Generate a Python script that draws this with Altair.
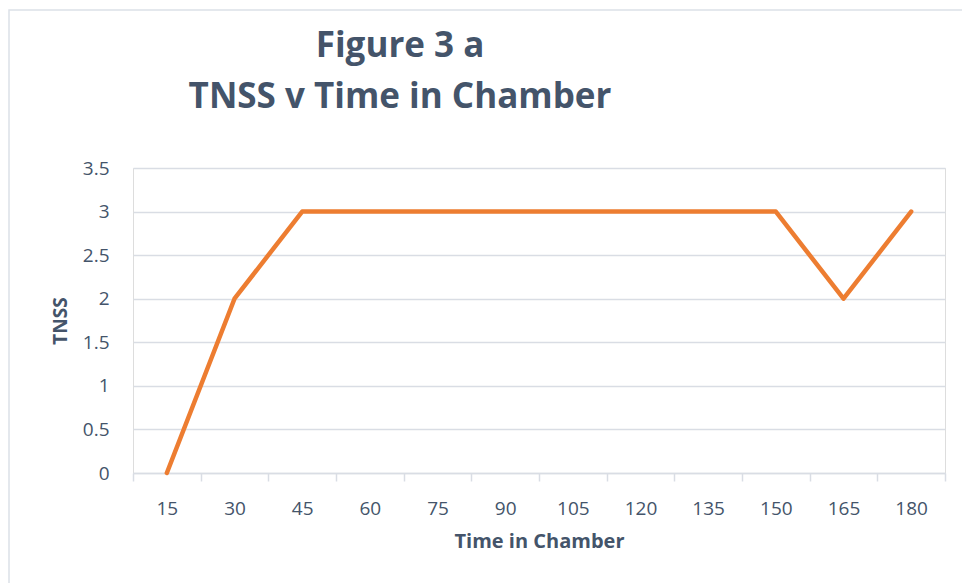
import altair as alt
import pandas as pd

times = [15, 30, 45, 60, 75, 90, 105, 120, 135, 150, 165, 180]
tnss = [0, 2, 3, 3, 3, 3, 3, 3, 3, 3, 2, 3]
y_ticks = [0, 0.5, 1, 1.5, 2, 2.5, 3, 3.5]

df = pd.DataFrame({"time": [str(t) for t in times], "tnss": tnss})

TEXT = "#44546A"
GRID = "#D9DDE4"
FONT = "Open Sans"

base = alt.Chart(df)

line = base.mark_line(color="#ED7D31", strokeWidth=4.5, strokeCap="round", strokeJoin="round").encode(
    x=alt.X("time:N", sort=[str(t) for t in times], bandPosition=0.5,
            scale=alt.Scale(type="band", paddingInner=0, paddingOuter=0),
            axis=alt.Axis(title="Time in Chamber", tickBand="extent", labelAngle=0,
                          domainColor=GRID, domainWidth=1.5, tickColor=GRID, tickWidth=1.5,
                          tickSize=8, labelPadding=18, labelFontSize=19, labelColor=TEXT,
                          labelFont=FONT, titleFont=FONT, titleFontSize=20, titleFontWeight="bold",
                          titleColor=TEXT, titlePadding=13, grid=False)),
    y=alt.Y("tnss:Q", scale=alt.Scale(domain=[0, 3.5], nice=False),
            axis=alt.Axis(title="TNSS", values=y_ticks, format="~g", domain=False, ticks=False,
                          gridColor=GRID, gridWidth=1.5, labelPadding=24, labelFontSize=19,
                          labelColor=TEXT, labelFont=FONT, titleFont=FONT, titleFontSize=19,
                          titleFontWeight="bold", titleColor=TEXT, titlePadding=12)),
)

border = alt.Chart(pd.DataFrame({"a": [0]})).mark_rect(
    fill=None, stroke="#DCE1E8", strokeWidth=1.5
).encode(
    x=alt.value(-124), x2=alt.value(850), y=alt.value(-158), y2=alt.value(430)
)

chart = alt.layer(border, line).properties(
    width=812, height=305,
    title=alt.TitleParams(["Figure 3 a", "TNSS v Time in Chamber"], font=FONT, fontSize=35,
                          fontWeight="bold", color=TEXT, lineHeight=51, anchor="middle",
                          baseline="alphabetic", dx=-139, dy=134, offset=0),
    autosize=alt.AutoSizeParams(type="none"),
    padding={"left": 133, "top": 168, "right": 17, "bottom": 110},
).configure_view(stroke=None).configure(background="white")

chart.save("out.html", embed_options={"renderer": "svg", "actions": False})
